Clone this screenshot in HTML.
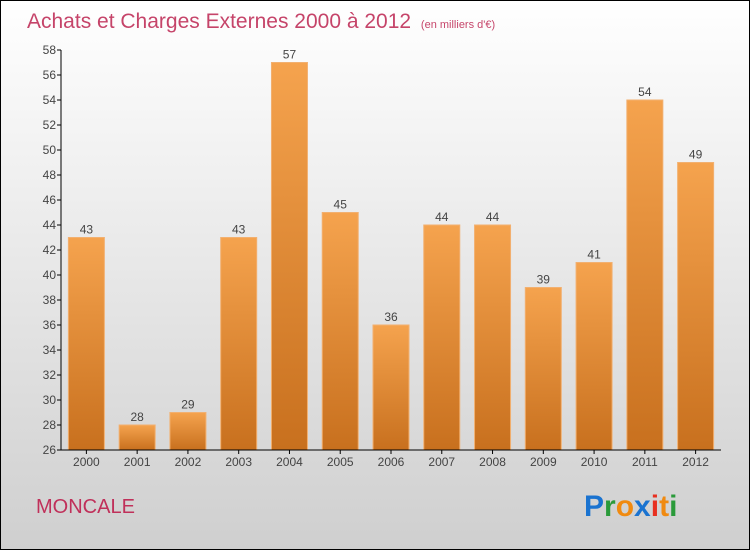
<!DOCTYPE html>
<html><head><meta charset="utf-8"><style>
body{margin:0;width:750px;height:550px;overflow:hidden;font-family:"Liberation Sans",sans-serif}
</style></head><body>
<svg width="750" height="550">
<defs>
<linearGradient id="bg" x1="0" y1="0" x2="0" y2="1"><stop offset="0" stop-color="#ffffff"/><stop offset="1" stop-color="#cfcfcf"/></linearGradient>
<linearGradient id="bar" x1="0" y1="0" x2="0" y2="1"><stop offset="0" stop-color="#f5a34e"/><stop offset="1" stop-color="#c8701e"/></linearGradient>
</defs>
<rect x="0.5" y="0.5" width="749" height="549" fill="url(#bg)" stroke="#000"/>
<text x="27" y="28" font-size="21" fill="#c0305a" opacity="0.9">Achats et Charges Externes 2000 à 2012 <tspan font-size="11" dx="4">(en milliers d'€)</tspan></text>
<g id="yaxis"></g>
<g id="bars"></g>
<g id="xaxis"></g>
<text x="36" y="513" font-size="20" fill="#c0305a">MONCALE</text>
<g font-size="30" font-weight="bold">
<text x="584" y="516" fill="#1a73d0">P<tspan fill="#2a9a3a">r</tspan><tspan fill="#f08a10">o</tspan><tspan fill="#1a73d0">x</tspan><tspan fill="#e83020">i</tspan><tspan fill="#f08a10">t</tspan><tspan fill="#2a9a3a">i</tspan></text>
</g>
</svg>
<script>
const years=["2000","2001","2002","2003","2004","2005","2006","2007","2008","2009","2010","2011","2012"];
const values=[43,28,29,43,57,45,36,44,44,39,41,54,49];
const yTicks=[26,28,30,32,34,36,38,40,42,44,46,48,50,52,54,56,58];
const NS="http://www.w3.org/2000/svg";
const yMin=26,yMax=58,plotTop=50,plotBot=450,plotLeft=61,plotRight=721;
const ys=v=>plotBot-(v-yMin)*(plotBot-plotTop)/(yMax-yMin);
const step=(plotRight-plotLeft)/years.length;
const xc=i=>plotLeft+step*(i+0.5);
function mk(t,a,p,txt){const e=document.createElementNS(NS,t);for(const k in a)e.setAttribute(k,a[k]);if(txt!==undefined)e.textContent=txt;p.appendChild(e);return e;}
const ya=document.getElementById('yaxis'),bg=document.getElementById('bars'),xa=document.getElementById('xaxis');
const yl=mk('line',{x1:plotLeft,y1:plotTop,x2:plotLeft,y2:plotBot,stroke:'#000'},ya);


yTicks.forEach(v=>{
 const t=mk('line',{x1:plotLeft-4,y1:ys(v),x2:plotLeft,y2:ys(v),stroke:'#000'},ya);
 
 
 const tx=mk('text',{x:plotLeft-5,y:ys(v)+4,'font-size':12,fill:'#444','text-anchor':'end'},ya,v);
 
 
});
values.forEach((v,i)=>{
 const r=mk('rect',{x:xc(i)-18,y:ys(v),width:36,height:plotBot-ys(v),fill:'url(#bar)',stroke:'#f2b070','stroke-width':1},bg);
 
 
 const t=mk('text',{x:xc(i),y:ys(v)-4,'font-size':12,fill:'#444','text-anchor':'middle'},bg,v);
 
 
 const tk=mk('line',{x1:xc(i),y1:plotBot,x2:xc(i),y2:plotBot+4,stroke:'#000'},xa);
 
 
 const xt=mk('text',{x:xc(i),y:plotBot+16,'font-size':12,fill:'#444','text-anchor':'middle'},xa,years[i]);
 
 
});
const xl=mk('line',{x1:plotLeft,y1:plotBot,x2:plotRight,y2:plotBot,stroke:'#000'},xa);


</script>
</body></html>
